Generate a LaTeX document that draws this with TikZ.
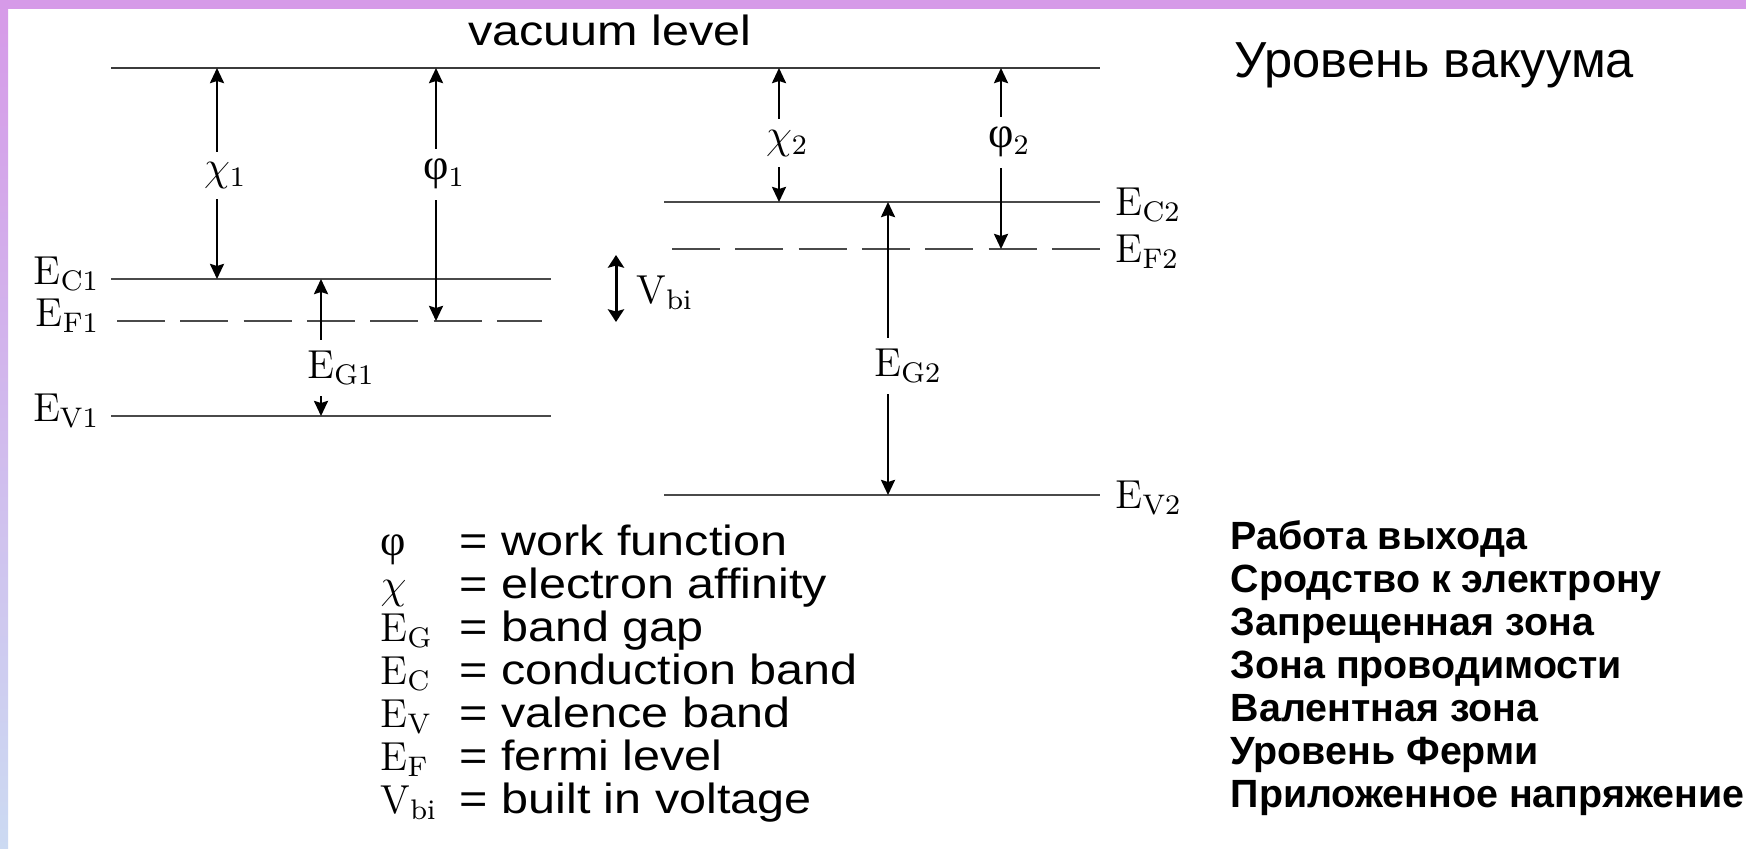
\documentclass[tikz,border=0pt]{standalone}
\usepackage{fontspec}
\usepackage{amsmath}
\usepackage{mathtools}
\newfontfamily\labelsans[FakeStretch=1.15]{Liberation Sans}
\newfontfamily\russans{Liberation Sans}
\newfontfamily\phifont{Liberation Serif}
\newcommand\phiup{{\phifont\fontsize{12.5}{14}\selectfont φ}}
\usetikzlibrary{positioning,arrows.meta}

\definecolor{framepurple}{HTML}{D69AE8}
\definecolor{frameblue}{HTML}{CCDAF2}
\definecolor{levelgray}{HTML}{4A4A4A}

\tikzset{
  level/.style={draw=levelgray, line width=0.55pt},
  vacline/.style={draw=levelgray!80!black, line width=0.85pt},
  fermi/.style={level, dash pattern=on 13.7pt off 4.3pt},
  gap/.style={draw=black, line width=0.6pt,
    {Stealth[length=4.3pt,width=4pt,inset=0.6pt]}-{Stealth[length=4.3pt,width=4pt,inset=0.6pt]}},
  vbiarrow/.style={draw=black, line width=0.85pt,
    {Stealth[length=3.6pt,width=4.6pt,inset=0.6pt]}-{Stealth[length=3.6pt,width=4.6pt,inset=0.6pt]}},
  elbl/.style={font=\fontsize{11.5}{13}\selectfont, inner sep=0pt},
  onarrow/.style={elbl, fill=white, inner ysep=3pt, inner xsep=1pt},
  sanslbl/.style={font=\labelsans\fontsize{12}{14}\selectfont, inner sep=0pt},
  ruslbl/.style={font=\russans\fontsize{14.4}{17}\selectfont, inner sep=0pt},
  rusleg/.style={font=\russans\bfseries\fontsize{11.2}{13}\selectfont, inner sep=0pt, anchor=base west},
}

\begin{document}
\begin{tikzpicture}[x=0.01cm, y=-0.01cm]

    % frame
    \useasboundingbox (0,0) rectangle (1746,848);
    \fill[white] (0,0) rectangle (1746,848);
    \shade[top color=framepurple, bottom color=frameblue] (0,0) rectangle (8,848);
    \fill[framepurple] (0,0) rectangle (1746,9);

    % vacuum level
    \draw[vacline] (111,68) -- (1100,68);
    \node[sanslbl, anchor=base] (vactxt) at (610,45) {vacuum level};
    \node[ruslbl, anchor=base west] (vacrus) at (1234,77) {Уровень вакуума};

    % semiconductor 1
    \draw[level] (111,279) -- (551,279);
    \draw[fermi] (117,321) -- (542,321);
    \draw[level] (111,416) -- (551,416);
    \node[elbl, anchor=base east] (ec1) at (100,284) {\(\mathrm{E}_{\mathrm{C1}}\)};
    \node[elbl, anchor=base east] (ef1) at (100,326) {\(\mathrm{E}_{\mathrm{F1}}\)};
    \node[elbl, anchor=base east] (ev1) at (100,421) {\(\mathrm{E}_{\mathrm{V1}}\)};

    % semiconductor 2
    \draw[level] (664,202) -- (1100,202);
    \draw[fermi] (672,249) -- (1100,249);
    \draw[level] (664,495) -- (1100,495);
    \node[elbl, anchor=base west] (ec2) at (1115,215) {\(\mathrm{E}_{\mathrm{C2}}\)};
    \node[elbl, anchor=base west] (ef2) at (1115,262) {\(\mathrm{E}_{\mathrm{F2}}\)};
    \node[elbl, anchor=base west] (ev2) at (1115,508) {\(\mathrm{E}_{\mathrm{V2}}\)};

    % arrow ends
    \coordinate (chi1top) at (217,68);
    \coordinate (chi1bot) at (217,279);
    \coordinate (phi1top) at (436,68);
    \coordinate (phi1bot) at (436,321);
    \coordinate (eg1top) at (321,279);
    \coordinate (eg1bot) at (321,416);
    \coordinate (chi2top) at (779,68);
    \coordinate (chi2bot) at (779,202);
    \coordinate (phi2top) at (1001,68);
    \coordinate (phi2bot) at (1001,249);
    \coordinate (eg2top) at (888,202);
    \coordinate (eg2bot) at (888,495);
    \coordinate (vbitop) at (616,255);
    \coordinate (vbibot) at (616,322);

    % energy differences
    \draw[gap] (chi1top) -- node[onarrow, pos=0.51] (chi1) {\(\chi\mathrlap{_1}\)} (chi1bot);
    \draw[gap] (phi1top) -- node[onarrow, pos=0.42] (phi1) {\phiup\rlap{\(_1\)}} (phi1bot);
    \draw[gap] (eg1top) -- node[onarrow, pos=0.65] (eg1) {\(\mathrm{E}\mathrlap{_{\mathrm{G1}}}\)} (eg1bot);
    \draw[gap] (chi2top) -- node[onarrow, pos=0.56] (chi2) {\(\chi\mathrlap{_2}\)} (chi2bot);
    \draw[gap] (phi2top) -- node[onarrow, pos=0.41] (phi2) {\phiup\rlap{\(_2\)}} (phi2bot);
    \draw[gap] (eg2top) -- node[onarrow, pos=0.56] (eg2) {\(\mathrm{E}\mathrlap{_{\mathrm{G2}}}\)} (eg2bot);

    % built in voltage
    \draw[vbiarrow] (vbitop) -- (vbibot);
    \node[elbl, anchor=west] (vbi) at (636,293) {\(\mathrm{V}_{\mathrm{bi}}\)};

    % legend
    \node[elbl, anchor=base west] (symphi) at (380,555) {\phiup};
    \node[elbl, anchor=base west] (symchi) at (380,598) {\(\chi\)};
    \node[elbl, anchor=base west] (symeg) at (380,641) {\(\mathrm{E}_{\mathrm{G}}\)};
    \node[elbl, anchor=base west] (symec) at (380,684) {\(\mathrm{E}_{\mathrm{C}}\)};
    \node[elbl, anchor=base west] (symev) at (380,727) {\(\mathrm{E}_{\mathrm{V}}\)};
    \node[elbl, anchor=base west] (symef) at (380,770) {\(\mathrm{E}_{\mathrm{F}}\)};
    \node[elbl, anchor=base west] (symvbi) at (380,813) {\(\mathrm{V}_{\mathrm{bi}}\)};

    \node[sanslbl, anchor=base west] (legphi) at (459,555) {= work function};
    \node[sanslbl, anchor=base west] (legchi) at (459,598) {= electron affinity};
    \node[sanslbl, anchor=base west] (legeg) at (459,641) {= band gap};
    \node[sanslbl, anchor=base west] (legec) at (459,684) {= conduction band};
    \node[sanslbl, anchor=base west] (legev) at (459,727) {= valence band};
    \node[sanslbl, anchor=base west] (legef) at (459,770) {= fermi level};
    \node[sanslbl, anchor=base west] (legvbi) at (459,813) {= built in voltage};

    % russian legend
    \node[rusleg] (rusphi) at (1230,549) {Работа выхода};
    \node[rusleg] (ruschi) at (1230,592) {Сродство к электрону};
    \node[rusleg] (ruseg) at (1230,635) {Запрещенная зона};
    \node[rusleg] (rusec) at (1230,678) {Зона проводимости};
    \node[rusleg] (rusev) at (1230,721) {Валентная зона};
    \node[rusleg] (rusef) at (1230,764) {Уровень Ферми};
    \node[rusleg] (rusvbi) at (1230,807) {Приложенное напряжение};

\end{tikzpicture}
\end{document}
